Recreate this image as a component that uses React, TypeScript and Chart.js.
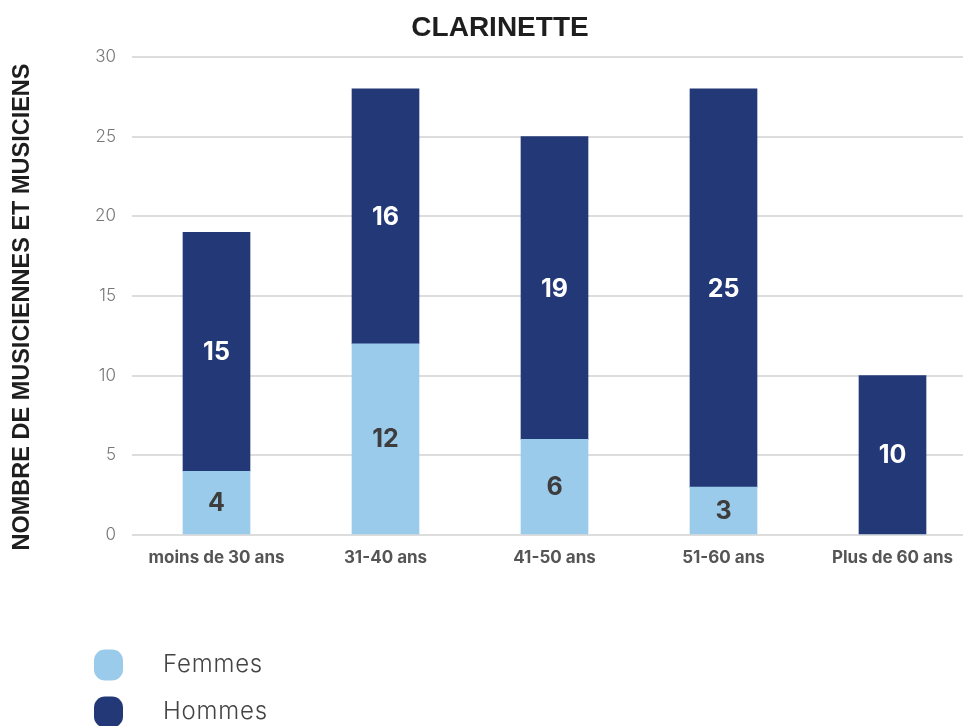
import React, { useEffect, useRef } from "react";
import { Chart, registerables } from "chart.js";

Chart.register(...registerables);

const categories = ["moins de 30 ans", "31-40 ans", "41-50 ans", "51-60 ans", "Plus de 60 ans"];
const femmes = [4, 12, 6, 3, 0];
const hommes = [15, 16, 19, 25, 10];
const yTicks = [0, 5, 10, 15, 20, 25, 30];
const chartTitle = "CLARINETTE";
const yTitle = "NOMBRE DE MUSICIENNES ET MUSICIENS";
const legendLabels = ["Femmes", "Hommes"];

const LIGHT = "#9bcbeb";
const DARK = "#233876";

export default function App() {
  const ref = useRef<HTMLCanvasElement | null>(null);
  useEffect(() => {
    if (!ref.current) return;
    const extras = {
      id: "extras",
      afterDatasetsDraw(chart: any) {
        const ctx = chart.ctx;
        ctx.save();
        ctx.textAlign = "center";
        ctx.textBaseline = "middle";
        ctx.font = "bold 25px Inter, 'Open Sans', sans-serif";
        chart.data.datasets.forEach((ds: any, di: number) => {
          const meta = chart.getDatasetMeta(di);
          meta.data.forEach((bar: any, i: number) => {
            const v = ds.data[i];
            if (!v) return;
            const y = (bar.y + bar.base) / 2;
            ctx.fillStyle = di === 0 ? "#3d3d3d" : "#ffffff";
            ctx.fillText(String(v), bar.x, y + 1);
          });
        });
        ctx.restore();
      },
      afterDraw(chart: any) {
        const ctx = chart.ctx;
        ctx.save();
        // title
        ctx.fillStyle = "#1e1e1e";
        ctx.textAlign = "center";
        ctx.textBaseline = "middle";
        ctx.font = "bold 28px 'Liberation Sans', Arial, sans-serif";
        ctx.fillText(chartTitle, 500, 28);
        // y title
        ctx.save();
        ctx.translate(23, 307);
        ctx.rotate(-Math.PI / 2);
        ctx.font = "bold 23.5px 'Liberation Sans', Arial, sans-serif";
        ctx.fillText(yTitle, 0, 0);
        ctx.restore();
        // legend
        const colors = [LIGHT, DARK];
        const ys = [665, 712];
        legendLabels.forEach((lab, i) => {
          ctx.fillStyle = colors[i];
          ctx.beginPath();
          (ctx as any).roundRect(94, ys[i] - 15.5, 29, 31, 11);
          ctx.fill();
          ctx.fillStyle = "#444444";
          ctx.textAlign = "left";
          (ctx as any).letterSpacing = "0.8px";
          ctx.font = "300 24px Inter, 'Open Sans', sans-serif";
          ctx.fillText(lab, 163, ys[i]);
        });
        ctx.restore();
      },
    };
    const chart = new Chart(ref.current, {
      type: "bar",
      data: {
        labels: categories,
        datasets: [
          { label: legendLabels[0], data: femmes, backgroundColor: LIGHT, barThickness: 67 },
          { label: legendLabels[1], data: hommes, backgroundColor: DARK, barThickness: 67 },
        ],
      },
      options: {
        animation: false,
        responsive: false,
        maintainAspectRatio: false,
        layout: { padding: { top: 57, bottom: 151, left: 0, right: 0 } },
        plugins: { legend: { display: false }, title: { display: false }, tooltip: { enabled: false } },
        scales: {
          x: {
            stacked: true,
            grid: { display: false, drawTicks: false },
            border: { display: false },
            ticks: {
              padding: 13,
              color: "#555555",
              font: { family: "Inter, 'Open Sans', sans-serif", size: 17, weight: "bold" },
            },
            afterFit(scale: any) {
              scale.height = 40;
            },
          },
          y: {
            stacked: true,
            min: 0,
            max: 30,
            afterBuildTicks(scale: any) {
              scale.ticks = yTicks.map((v) => ({ value: v }));
            },
            grid: { color: "#dddddd", lineWidth: 2, drawTicks: false },
            border: { display: false },
            ticks: {
              padding: 16,
              color: "#777777",
              font: { family: "Inter, sans-serif", size: 17, weight: "300" },
            },
            afterFit(scale: any) {
              scale.width = 132;
            },
          },
        },
      },
      plugins: [extras],
    } as any);
    return () => chart.destroy();
  }, []);
  return (
    <div style={{ margin: "-8px 0 0 -8px", width: 971, height: 726, overflow: "hidden", position: "relative" }}>
      <canvas ref={ref} width={977} height={726} style={{ display: "block", width: 977, height: 726 }} />
    </div>
  );
}
